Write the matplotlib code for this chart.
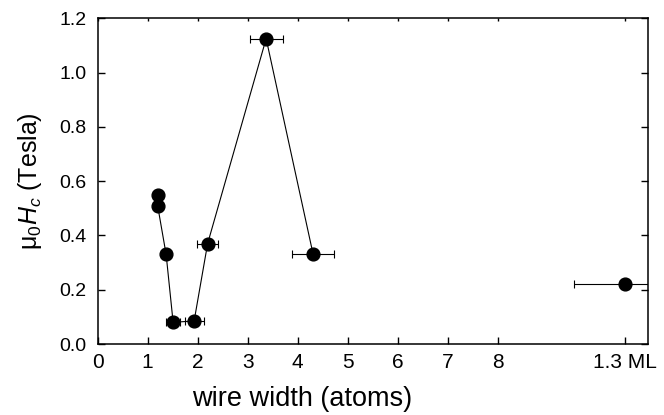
import numpy as np
import matplotlib
matplotlib.use('Agg')
import matplotlib.pyplot as plt

plt.rcParams['font.family'] = ['Liberation Sans', 'DejaVu Sans']
plt.rcParams['mathtext.fontset'] = 'custom'
plt.rcParams['mathtext.rm'] = 'Liberation Sans'
plt.rcParams['mathtext.it'] = 'Liberation Sans:italic'

# wire data (connected)
width = [1.2, 1.2, 1.37, 1.51, 1.93, 2.2, 3.37, 4.31]
hc = [0.55, 0.51, 0.33, 0.08, 0.085, 0.37, 1.125, 0.33]
width_err = [0.0, 0.0, 0.08, 0.14, 0.19, 0.21, 0.33, 0.42]

# monolayer point
ml_x = [10.55]
ml_hc = [0.22]
ml_err = [1.02]

xtick_pos = [0, 1, 2, 3, 4, 5, 6, 7, 8, 10.55]
xtick_lab = ['0', '1', '2', '3', '4', '5', '6', '7', '8', '1.3 ML']
ytick_pos = [0.0, 0.2, 0.4, 0.6, 0.8, 1.0, 1.2]

fig = plt.figure(figsize=(6.64, 4.15), dpi=100)
ax = fig.add_axes([0.147, 0.171, 0.8285, 0.785])

ax.plot(width, hc, color='black', lw=0.8, zorder=2)
ax.errorbar(width, hc, xerr=width_err, fmt='o', color='black', ms=9.2,
            elinewidth=0.8, capsize=3.2, capthick=0.8, zorder=3)
ax.errorbar(ml_x, ml_hc, xerr=ml_err, fmt='o', color='black', ms=9.2,
            elinewidth=0.8, capsize=3.2, capthick=0.8, zorder=3)

ax.set_xlim(0, 11)
ax.set_ylim(0, 1.2)
ax.set_xticks(xtick_pos)
ax.set_xticklabels(xtick_lab)
ax.set_yticks(ytick_pos)
ax.set_yticklabels(['%.1f' % v for v in ytick_pos])

ax.tick_params(axis='both', direction='in', length=5, width=1.0, colors='black')
ax.tick_params(axis='x', pad=6.5, top=True, labelsize=15)
ax.tick_params(axis='y', pad=8, right=True, labelsize=14)
for t in ax.xaxis.get_major_ticks():
    t.tick2line.set_markersize(2)

for s in ax.spines.values():
    s.set_linewidth(1.1)

ax.set_xlabel('wire width (atoms)', fontsize=19.5)
ax.xaxis.set_label_coords(0.372, -0.129)
ax.xaxis.label.set_va('top')
ax.set_ylabel(r'μ$_{\mathit{0}}\mathit{H}_{\mathit{c}}$ (Tesla)', fontsize=18, labelpad=11)

fig.savefig('out.png', dpi=100)
